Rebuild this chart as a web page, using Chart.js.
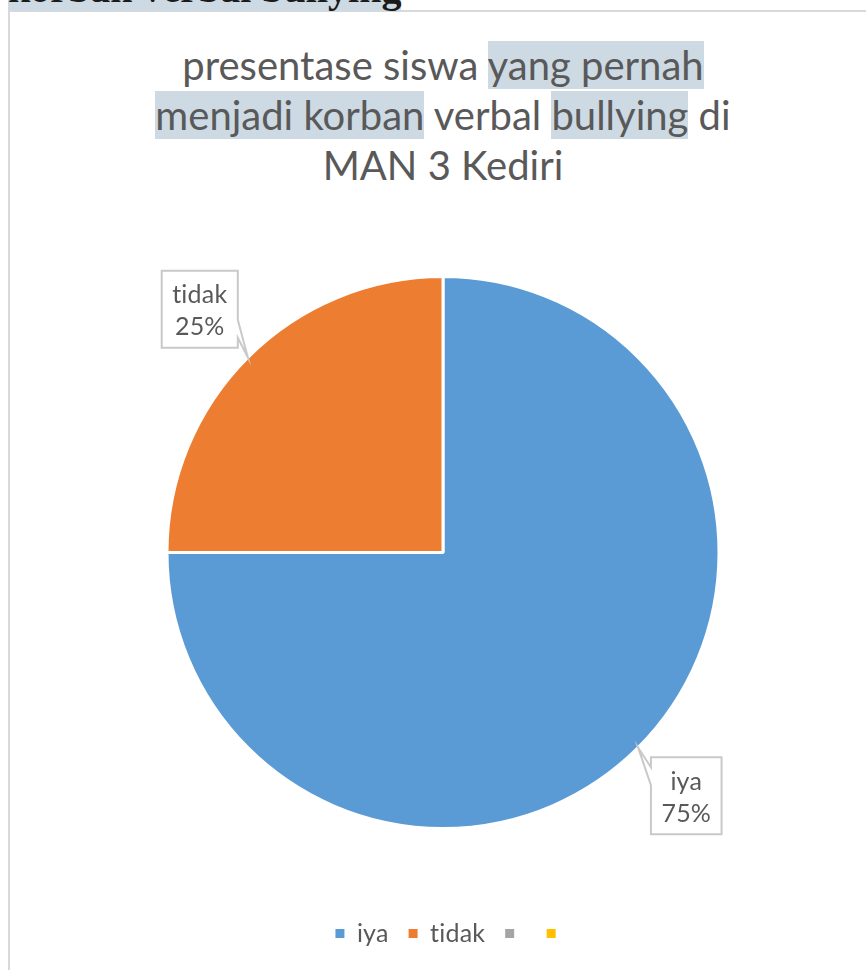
<!DOCTYPE html>
<html>
<head>
<meta charset="utf-8">
<script src="https://cdn.jsdelivr.net/npm/chart.js@4/dist/chart.umd.min.js"></script>
<style>
  html, body { margin: 0; padding: 0; background: #fff; overflow: hidden; }
  body { width: 866px; height: 970px; position: relative; font-family: 'Lato', sans-serif; font-variant-ligatures: none; }
  .frame { position: absolute; left: 8px; top: 10px; width: 900px; height: 1000px; border: 2px solid #d9d9d9; }
  .heading { position: absolute; left: 8px; top: -33px; font: bold 40px/44px 'Liberation Serif', serif; color: #1b1b1b; white-space: nowrap; }
  .hl { background: #cdd9e3; }
  .title { position: absolute; left: 20px; top: 40px; width: 846px; text-align: center; font-size: 40px; line-height: 50px; color: #595959; }
  canvas { position: absolute; left: 0; top: 0; }
</style>
</head>
<body>
<div class="frame"></div>
<div class="heading"><span class="hl">korban verbal bullying</span></div>
<div class="title">presentase siswa <span class="hl">yang pernah</span><br><span class="hl">menjadi korban</span> verbal <span class="hl">bullying</span> di<br>MAN 3 Kediri</div>
<canvas id="pie" width="866" height="970"></canvas>
<script>
// jawaban siswa (persen)
const kategori = ['iya', 'tidak', '', ''];
const persen   = [75, 25, 0, 0];
const warna    = ['#5B9BD5', '#ED7D31', '#A5A5A5', '#FFC000'];

const FONT = "'Lato', sans-serif";
const ABU = '#595959';

// matikan ligatur "ti" pada teks canvas
const tanpaLigatur = {
  id: 'tanpaLigatur',
  beforeDraw(chart) {
    chart.ctx.textRendering = 'optimizeSpeed';
    chart.ctx.letterSpacing = '0.2px';
  }
};

// label data berbentuk kotak callout dengan ekor ke tepi irisan
const calloutLabels = {
  id: 'calloutLabels',
  afterDatasetsDraw(chart) {
    const ctx = chart.ctx;
    const meta = chart.getDatasetMeta(0);
    const total = persen.reduce((a, b) => a + b, 0);
    ctx.save();
    ctx.font = '25px ' + FONT;
    meta.data.forEach((arc, i) => {
      if (!persen[i]) return;
      const p = arc.getProps(['x', 'y', 'startAngle', 'endAngle', 'outerRadius'], true);
      const mid = (p.startAngle + p.endAngle) / 2;
      const tx = p.x + Math.cos(mid) * p.outerRadius;
      const ty = p.y + Math.sin(mid) * p.outerRadius;
      const cx = p.x + Math.cos(mid) * (p.outerRadius + 68);
      const cy = p.y + Math.sin(mid) * (p.outerRadius + 68);
      const lines = [kategori[i], Math.round(persen[i] / total * 100) + '%'];
      const w = Math.max(...lines.map(t => ctx.measureText(t).width)) + 21;
      const h = 77;
      const l = cx - w / 2, r = cx + w / 2, t = cy - h / 2, b = cy + h / 2;
      const kanan = tx > cx, bawah = ty > cy;

      ctx.beginPath();
      ctx.moveTo(l, t);
      ctx.lineTo(r, t);
      if (kanan) {
        if (bawah) { ctx.lineTo(r, b - 28); ctx.lineTo(tx, ty); ctx.lineTo(r, b - 10); }
        else { ctx.lineTo(r, t + 10); ctx.lineTo(tx, ty); ctx.lineTo(r, t + 28); }
      }
      ctx.lineTo(r, b);
      ctx.lineTo(l, b);
      if (!kanan) {
        if (bawah) { ctx.lineTo(l, b - 10); ctx.lineTo(tx, ty); ctx.lineTo(l, b - 28); }
        else { ctx.lineTo(l, t + 28); ctx.lineTo(tx, ty); ctx.lineTo(l, t + 10); }
      }
      ctx.closePath();
      ctx.fillStyle = '#fff';
      ctx.fill();
      ctx.lineWidth = 2;
      ctx.strokeStyle = '#c9c9c9';
      ctx.stroke();

      ctx.fillStyle = ABU;
      ctx.textAlign = 'center';
      ctx.textBaseline = 'alphabetic';
      ctx.fillText(lines[0], cx, cy - 6);
      ctx.fillText(lines[1], cx, cy + 26);
    });
    ctx.restore();
  }
};

// legenda sedikit digeser ke kanan dari pusat lingkaran
const geserLegenda = {
  id: 'geserLegenda',
  afterLayout(chart) {
    chart.legend.left += 8;
    chart.legend.right += 8;
  }
};

new Chart(document.getElementById('pie'), {
  type: 'doughnut',
  data: {
    labels: kategori,
    datasets: [{ data: persen, backgroundColor: warna, borderColor: '#fff', borderWidth: 3, radius: 276 }]
  },
  options: {
    responsive: false,
    animation: false,
    devicePixelRatio: 1,
    cutout: 0,
    events: [],
    layout: { padding: { top: 204, bottom: 14, left: 20, right: 0 } },
    plugins: {
      tooltip: { enabled: false },
      legend: {
        position: 'bottom',
        labels: {
          boxWidth: 9, boxHeight: 9, padding: 20, color: ABU,
          font: { family: FONT, size: 25 },
          generateLabels: c => Chart.overrides.doughnut.plugins.legend.labels.generateLabels(c).map(it => ({ ...it, lineWidth: 0 }))
        }
      }
    }
  },
  plugins: [tanpaLigatur, calloutLabels, geserLegenda]
});
</script>
</body>
</html>
